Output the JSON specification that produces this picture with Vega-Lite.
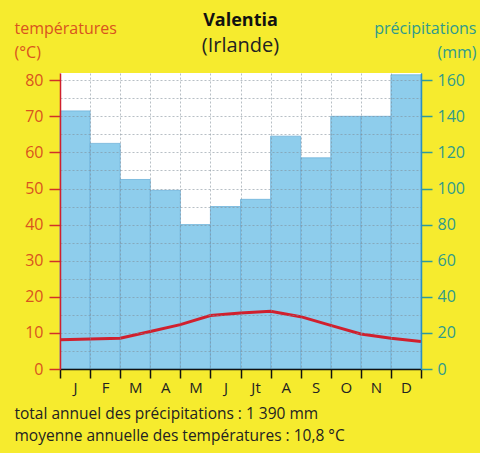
{
  "$schema": "https://vega.github.io/schema/vega-lite/v6.json",
  "width": 361,
  "height": 296,
  "autosize": "none",
  "padding": {"left": 60, "top": 73, "right": 59, "bottom": 84},
  "background": "#f6eb2e",
  "title": {
    "text": "Valentia",
    "subtitle": "(Irlande)",
    "anchor": "middle",
    "frame": "group",
    "font": "Open Sans",
    "fontSize": 18,
    "fontWeight": "bold",
    "color": "#111111",
    "subtitleFont": "Open Sans",
    "subtitleFontSize": 20,
    "subtitleColor": "#222222",
    "subtitlePadding": 6,
    "offset": -36
  },
  "config": {
    "font": "Open Sans",
    "view": {"fill": "white", "stroke": null}
  },
  "datasets": {
    "precip": [
      {"mois": 1, "mm": 143},
      {"mois": 2, "mm": 125},
      {"mois": 3, "mm": 105},
      {"mois": 4, "mm": 99},
      {"mois": 5, "mm": 80},
      {"mois": 6, "mm": 90},
      {"mois": 7, "mm": 94},
      {"mois": 8, "mm": 129},
      {"mois": 9, "mm": 117},
      {"mois": 10, "mm": 140},
      {"mois": 11, "mm": 140},
      {"mois": 12, "mm": 163}
    ],
    "temp": [
      {"pos": 0, "t": 8.1},
      {"pos": 1, "t": 8.3},
      {"pos": 2, "t": 8.5},
      {"pos": 3, "t": 10.4},
      {"pos": 4, "t": 12.3},
      {"pos": 5, "t": 14.8},
      {"pos": 6, "t": 15.5},
      {"pos": 7, "t": 16.0},
      {"pos": 8, "t": 14.5},
      {"pos": 9, "t": 12.1},
      {"pos": 10, "t": 9.7},
      {"pos": 11, "t": 8.5},
      {"pos": 12, "t": 7.6}
    ]
  },
  "layer": [
    {
      "data": {"name": "precip"},
      "mark": {"type": "bar", "color": "#8ecdec", "stroke": "#6fb3da", "strokeWidth": 0.8},
      "encoding": {
        "x": {
          "field": "mois",
          "type": "ordinal",
          "scale": {"paddingInner": 0, "paddingOuter": 0},
          "axis": {
            "orient": "bottom",
            "tickBand": "extent",
            "grid": true,
            "gridColor": "#7f8c96",
            "gridDash": [2, 2],
            "gridWidth": 0.8,
            "gridOpacity": 0.7,
            "domainColor": "#111111",
            "domainWidth": 1.5,
            "tickColor": "#111111",
            "tickSize": 9,
            "tickWidth": 1.5,
            "labelExpr": "['J','F','M','A','M','J','Jt','A','S','O','N','D'][datum.value-1]",
            "labelAngle": 0,
            "labelFontSize": 15,
            "labelColor": "#222222",
            "labelPadding": 2,
            "title": ["total annuel des précipitations : 1 390 mm", "moyenne annuelle des températures : 10,8 °C"],
            "titleFontSize": 15.5,
            "titleFontWeight": "normal",
            "titleColor": "#222222",
            "titleAngle": 0,
            "titleAlign": "left",
            "titleAnchor": "start",
            "titleBaseline": "alphabetic",
            "titleX": -46,
            "titleY": 49,
            "titleLineHeight": 22,
            "zindex": 1
          }
        },
        "y": {
          "field": "mm",
          "type": "quantitative",
          "scale": {"domain": [0, 164], "nice": false},
          "axis": {
            "orient": "right",
            "values": [0, 20, 40, 60, 80, 100, 120, 140, 160],
            "grid": false,
            "domainColor": "#2b8fc0",
            "domainWidth": 1.5,
            "tickColor": "#2f9a9a",
            "tickSize": 11,
            "tickWidth": 1.5,
            "labelColor": "#2f9a8c",
            "labelFontSize": 16,
            "labelPadding": 5,
            "title": ["précipitations", "(mm)"],
            "titleFontSize": 16,
            "titleFontWeight": "normal",
            "titleColor": "#2f9a8c",
            "titleAngle": 0,
            "titleAlign": "right",
            "titleAnchor": "start",
            "titleBaseline": "alphabetic",
            "titleX": 55,
            "titleY": -40,
            "titleLineHeight": 24,
            "zindex": 1
          }
        }
      }
    },
    {
      "data": {"name": "temp"},
      "mark": {"type": "line", "color": "#d0202e", "strokeWidth": 3},
      "encoding": {
        "x": {
          "field": "pos",
          "type": "quantitative",
          "scale": {"domain": [0, 12], "nice": false},
          "axis": null
        },
        "y": {
          "field": "t",
          "type": "quantitative",
          "scale": {"domain": [0, 82], "nice": false},
          "axis": {
            "orient": "left",
            "values": [0, 5, 10, 15, 20, 25, 30, 35, 40, 45, 50, 55, 60, 65, 70, 75, 80],
            "labelExpr": "datum.value % 10 === 0 ? datum.label : ''",
            "tickOpacity": {"condition": {"test": "datum.value % 10 !== 0", "value": 0}, "value": 1},
            "grid": true,
            "gridColor": "#7f8c96",
            "gridDash": [2, 2],
            "gridWidth": 0.8,
            "gridOpacity": 0.7,
            "domainColor": "#d0202e",
            "domainWidth": 1.5,
            "tickColor": "#d0302a",
            "tickSize": 11,
            "tickWidth": 1.5,
            "labelColor": "#d9541e",
            "labelFontSize": 16,
            "labelPadding": 6,
            "title": ["températures", "(°C)"],
            "titleFontSize": 16,
            "titleFontWeight": "normal",
            "titleColor": "#d9541e",
            "titleAngle": 0,
            "titleAlign": "left",
            "titleAnchor": "start",
            "titleBaseline": "alphabetic",
            "titleX": -46,
            "titleY": -40,
            "titleLineHeight": 24,
            "zindex": 1
          }
        }
      }
    }
  ],
  "resolve": {
    "scale": {"x": "independent", "y": "independent"},
    "axis": {"x": "independent", "y": "independent"}
  }
}
